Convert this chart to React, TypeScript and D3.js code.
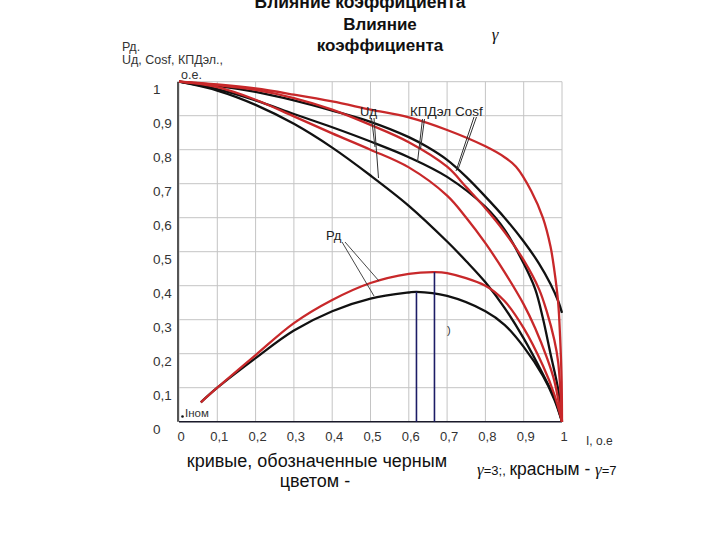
import React from 'react';
import * as d3 from 'd3';

type Pt = [number, number];

const tickValues = [0, 0.1, 0.2, 0.3, 0.4, 0.5, 0.6, 0.7, 0.8, 0.9, 1];
const xTickLabels = ['0', '0,1', '0,2', '0,3', '0,4', '0,5', '0,6', '0,7', '0,8', '0,9', '1'];
const yTickLabels = ['0', '0,1', '0,2', '0,3', '0,4', '0,5', '0,6', '0,7', '0,8', '0,9', '1'];

// gamma = 7 (red)
const cosfG7: Pt[] = [[0, 1], [0.1, 0.992], [0.2, 0.98], [0.3, 0.962], [0.4, 0.942], [0.5, 0.918], [0.6, 0.895], [0.7, 0.858], [0.8, 0.81], [0.85, 0.778], [0.88, 0.75], [0.92, 0.678], [0.95, 0.6], [0.97, 0.515], [0.98, 0.445], [0.99, 0.35], [0.995, 0.25], [0.999, 0.12], [1, 0]];
const kpdG7: Pt[] = [[0, 1], [0.1, 0.99], [0.2, 0.976], [0.3, 0.952], [0.4, 0.918], [0.5, 0.873], [0.6, 0.822], [0.7, 0.75], [0.75, 0.69], [0.8, 0.628], [0.85, 0.558], [0.9, 0.475], [0.94, 0.39], [0.96, 0.325], [0.98, 0.24], [0.99, 0.175], [1, 0]];
const udG7: Pt[] = [[0, 1], [0.1, 0.984], [0.2, 0.947], [0.3, 0.898], [0.4, 0.848], [0.5, 0.8], [0.6, 0.748], [0.7, 0.665], [0.75, 0.6], [0.8, 0.525], [0.85, 0.44], [0.9, 0.345], [0.93, 0.275], [0.96, 0.19], [0.98, 0.12], [1, 0]];
const pdG7: Pt[] = [[0.057, 0.057], [0.1, 0.1], [0.2, 0.196], [0.3, 0.29], [0.4, 0.358], [0.5, 0.408], [0.6, 0.435], [0.665, 0.44], [0.7, 0.437], [0.8, 0.4], [0.85, 0.355], [0.9, 0.275], [0.95, 0.165], [0.98, 0.08], [1, 0]];

// gamma = 3 (black)
const cosfG3: Pt[] = [[0, 1], [0.1, 0.988], [0.2, 0.97], [0.3, 0.945], [0.4, 0.915], [0.5, 0.882], [0.6, 0.837], [0.65, 0.807], [0.7, 0.77], [0.75, 0.72], [0.8, 0.662], [0.85, 0.6], [0.9, 0.53], [0.94, 0.465], [0.97, 0.405], [0.99, 0.355], [1, 0.32]];
const kpdG3: Pt[] = [[0, 1], [0.1, 0.978], [0.2, 0.945], [0.3, 0.905], [0.4, 0.866], [0.5, 0.824], [0.6, 0.778], [0.7, 0.72], [0.8, 0.632], [0.85, 0.565], [0.9, 0.465], [0.93, 0.39], [0.95, 0.305], [0.97, 0.2], [0.99, 0.095], [1, 0]];
const udG3: Pt[] = [[0, 1], [0.1, 0.974], [0.2, 0.932], [0.3, 0.876], [0.4, 0.806], [0.5, 0.724], [0.6, 0.635], [0.7, 0.53], [0.75, 0.472], [0.8, 0.41], [0.85, 0.335], [0.9, 0.245], [0.95, 0.14], [0.98, 0.07], [1, 0]];
const pdG3: Pt[] = [[0.057, 0.057], [0.1, 0.1], [0.2, 0.187], [0.3, 0.268], [0.4, 0.325], [0.5, 0.362], [0.6, 0.38], [0.62, 0.382], [0.7, 0.37], [0.8, 0.325], [0.85, 0.285], [0.9, 0.22], [0.95, 0.135], [0.98, 0.065], [1, 0]];

const pdMaxG3: Pt = [0.62, 0.382];
const pdMaxG7: Pt = [0.667, 0.44];

const RED = '#c8282a';
const BLACK = '#111111';
const NAVY = '#1c1c66';
const FONT = '"Liberation Sans", Arial, sans-serif';
const SERIF = '"Liberation Serif", "Times New Roman", serif';

export default function App() {
  const x = d3.scaleLinear().domain([0, 1]).range([179, 562]);
  const y = d3.scaleLinear().domain([0, 1]).range([421.7, 81.7]);
  const line = d3
    .line<Pt>()
    .x((d) => x(d[0]))
    .y((d) => y(d[1]))
    .curve(d3.curveCatmullRom.alpha(0.5));

  const redSeries = [cosfG7, kpdG7, udG7, pdG7];
  const blackSeries = [cosfG3, kpdG3, udG3, pdG3];

  return (
    <svg
      width={720}
      height={540}
      style={{ position: 'absolute', left: 0, top: 0, background: '#fff' }}
      fontFamily={FONT}
    >
      <rect x={0} y={0} width={720} height={540} fill="#fff" />
      {/* titles */}
      <text x={360} y={8} textAnchor="middle" fontSize={17.5} fontWeight="bold" fill="#111">
        Влияние коэффициента
      </text>
      <text x={380} y={30} textAnchor="middle" fontSize={17} fontWeight="bold" fill="#111">
        Влияние
      </text>
      <text x={380} y={51} textAnchor="middle" fontSize={17} fontWeight="bold" fill="#111">
        коэффициента
      </text>
      <text x={495} y={40} textAnchor="middle" fontSize={17} fontStyle="italic" fontFamily={SERIF} fill="#111">
        γ
      </text>

      {/* grid */}
      {tickValues.map((t) => (
        <line key={'gx' + t} x1={x(t)} x2={x(t)} y1={y(0)} y2={y(1)} stroke="#c4c4c4" strokeWidth={1} />
      ))}
      {tickValues.map((t) => (
        <line key={'gy' + t} x1={x(0)} x2={x(1)} y1={y(t)} y2={y(t)} stroke="#c4c4c4" strokeWidth={1} />
      ))}
      {/* axes */}
      <line x1={x(0)} x2={x(1)} y1={y(0)} y2={y(0)} stroke="#1a1a2a" strokeWidth={1.6} />
      <line x1={x(0) - 1} x2={x(0) - 1} y1={y(1)} y2={y(0)} stroke="#555" strokeWidth={2} />

      {/* tick labels */}
      {tickValues.map((t, i) => (
        <text key={'xl' + t} x={x(t) + 2} y={441} textAnchor="middle" fontSize={13} fill="#333">
          {xTickLabels[i]}
        </text>
      ))}
      {tickValues.map((t, i) => (
        <text key={'yl' + t} x={153} y={y(t) + 12} textAnchor="start" fontSize={13.5} fill="#333">
          {yTickLabels[i]}
        </text>
      ))}
      <text x={586} y={445} fontSize={12} fill="#333">I, о.е</text>

      {/* y-axis title */}
      <text x={122} y={51} fontSize={12.5} fill="#333">Рд.</text>
      <text x={122} y={64} fontSize={12.5} fill="#333">Uд, Cosf, КПДэл.,</text>
      <text x={181} y={79} fontSize={12.5} fill="#333">о.е.</text>

      {/* curves */}
      {blackSeries.map((s, i) => (
        <path key={'b' + i} d={line(s) || ''} fill="none" stroke={BLACK} strokeWidth={2.3} />
      ))}
      {redSeries.map((s, i) => (
        <path key={'r' + i} d={line(s) || ''} fill="none" stroke={RED} strokeWidth={2.3} />
      ))}

      {/* maximum markers */}
      <line x1={x(pdMaxG3[0])} x2={x(pdMaxG3[0])} y1={y(0)} y2={y(pdMaxG3[1])} stroke={NAVY} strokeWidth={1.6} />
      <line x1={x(pdMaxG7[0])} x2={x(pdMaxG7[0])} y1={y(0)} y2={y(pdMaxG7[1])} stroke={NAVY} strokeWidth={1.6} />
      <text x={447} y={334} fontSize={11} fill="#333">)</text>

      {/* Iном */}
      <circle cx={182.5} cy={416.5} r={1.3} fill="#111" />
      <text x={185} y={417} fontSize={11.5} fill="#333">Iном</text>

      {/* annotations */}
      <text x={326} y={240} fontSize={13} fill="#222">Рд</text>
      <line x1={342} y1={242} x2={374} y2={296} stroke="#333" strokeWidth={0.9} />
      <line x1={345} y1={242} x2={379} y2={281} stroke="#333" strokeWidth={0.9} />

      <text x={360} y={116} fontSize={13} fill="#222">Uд</text>
      <line x1={371.5} y1={118} x2={375} y2={147} stroke="#333" strokeWidth={1} />
      <line x1={374} y1={118} x2={378.5} y2={178} stroke="#333" strokeWidth={1} />

      <text x={410} y={116} fontSize={13.5} fill="#222">КПДэл Cosf</text>
      <line x1={422.5} y1={119} x2={417.5} y2={162} stroke="#333" strokeWidth={1} />
      <line x1={424.5} y1={119} x2={420.5} y2={149} stroke="#333" strokeWidth={1} />
      <line x1={474} y1={117} x2={456} y2={171} stroke="#333" strokeWidth={1} />
      <line x1={476.5} y1={117} x2={458.5} y2={168} stroke="#333" strokeWidth={1} />

      {/* bottom caption */}
      <text x={317} y={467} textAnchor="middle" fontSize={18} fill="#111">
        кривые, обозначенные черным
      </text>
      <text x={315} y={487} textAnchor="middle" fontSize={18} fill="#111">
        цветом -
      </text>
      <text x={477} y={475} fill="#111">
        <tspan fontFamily={SERIF} fontStyle="italic" fontSize={17}>γ</tspan>
        <tspan fontSize={13}>=3;, </tspan>
        <tspan fontSize={17.5}>красным - </tspan>
        <tspan fontFamily={SERIF} fontStyle="italic" fontSize={17}>γ</tspan>
        <tspan fontSize={13}>=7</tspan>
      </text>
    </svg>
  );
}
